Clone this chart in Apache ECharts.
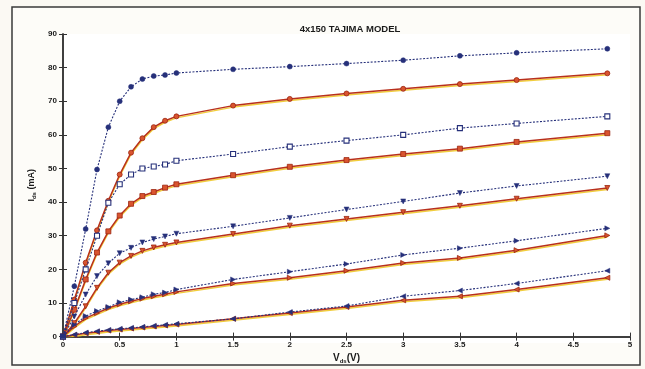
<!DOCTYPE html>
<html>
<head>
<meta charset="utf-8">
<script src="https://cdn.jsdelivr.net/npm/echarts@6/dist/echarts.min.js"></script>
<style>
html,body{margin:0;padding:0;background:#fbf9f3;}
#c{width:645px;height:369px;}
</style>
</head>
<body>
<div id="c"></div>
<script>
// Vds sample points (V)
const vds = [0, 0.1, 0.2, 0.3, 0.4, 0.5, 0.6, 0.7, 0.8, 0.9, 1.0, 1.5, 2, 2.5, 3, 3.5, 4, 4.8];
// Measured (blue dashed) and model (red) Ids curves, mA
const blueCircle = [0, 15, 32, 49.7, 62.3, 70, 74.3, 76.6, 77.5, 77.8, 78.4, 79.5, 80.3, 81.2, 82.2, 83.5, 84.4, 85.6];
const redCircle  = [0, 11, 22, 31.6, 40.4, 48.2, 54.7, 59, 62.3, 64.2, 65.5, 68.7, 70.7, 72.3, 73.7, 75.1, 76.3, 78.3];
const blueSquare = [0, 10, 20, 30, 39.8, 45.3, 48.2, 50, 50.6, 51.2, 52.3, 54.3, 56.5, 58.3, 60, 62, 63.4, 65.5];
const redSquare  = [0, 8, 17, 25, 31.3, 36, 39.5, 41.8, 43, 44.3, 45.3, 48, 50.5, 52.5, 54.3, 55.9, 57.9, 60.5];
const blueDown   = [0, 6, 12.5, 18, 21.8, 24.8, 26.4, 28, 29, 29.8, 30.6, 32.8, 35.3, 37.8, 40.2, 42.7, 44.8, 47.7];
const redDown    = [0, 4, 9, 14.5, 19, 22, 24, 25.5, 26.5, 27.3, 28, 30.5, 33, 35, 37, 38.9, 41, 44.2];
const blueRight  = [0, 3.5, 6.1, 7.6, 8.8, 10.2, 11, 11.7, 12.6, 13.1, 14, 17, 19.3, 21.6, 24.3, 26.3, 28.5, 32.2];
const redRight   = [0, 3, 5.5, 7, 8.5, 9.6, 10.5, 11.3, 12, 12.6, 13.3, 15.8, 17.5, 19.6, 21.9, 23.4, 25.7, 30.1];
const blueLeft   = [0, 0.6, 1.2, 1.6, 2, 2.3, 2.6, 2.9, 3.2, 3.5, 3.8, 5.3, 7.3, 9.1, 12, 13.7, 15.8, 19.6];
const redLeft    = [0, 0.5, 1, 1.4, 1.8, 2.1, 2.4, 2.7, 3, 3.3, 3.6, 5.3, 7, 8.8, 10.8, 12, 14, 17.5];

const xTicks = [0, 0.5, 1, 1.5, 2, 2.5, 3, 3.5, 4, 4.5, 5];
const yTicks = [0, 10, 20, 30, 40, 50, 60, 70, 80, 90];

const BLUE = '#26307a';
const RED = '#b8301c';

function pts(arr){ return vds.map((v,i)=>[v, arr[i]]); }

function blueSeries(name, arr, symbol, rot, hollow){
  return {
    name, type:'line', data: pts(arr), symbol, symbolRotate: rot, symbolSize: symbol==='circle'?5:5,
    lineStyle:{color:BLUE, width:1.1, type:[2,1.5]},
    itemStyle:{color: hollow ? '#ffffff' : BLUE, borderColor:BLUE, borderWidth: hollow?1.1:0.5},
    z: 3, animation:false
  };
}
function redSeries(name, arr, symbol, rot){
  return {
    name, type:'line', data: pts(arr), symbol, symbolRotate: rot, symbolSize: 5,
    lineStyle:{color:RED, width:1.5, shadowColor:'rgba(240,200,40,0.9)', shadowBlur:0, shadowOffsetY:1.5},
    itemStyle:{color:'#d9542f', borderColor:'#9a2410', borderWidth:0.8},
    z: 2, animation:false
  };
}

const axisLbl = {color:'#1a1a1a', fontSize:8, fontWeight:'bold', fontFamily:'Liberation Sans, Arial, sans-serif'};

const chart = echarts.init(document.getElementById('c'), null, {renderer:'canvas'});
chart.setOption({
  backgroundColor:'transparent',
  animation:false,
  graphic:[
    {type:'rect', shape:{x:12, y:7, width:628, height:358}, style:{fill:'#fdfcf8', stroke:'#3a3a3a', lineWidth:1.5}, z:-10},
    {type:'rect', shape:{x:63, y:34, width:567, height:309}, style:{fill:'#ffffff', stroke:null}, z:-9}
  ],
  title:{
    text:'4x150 TAJIMA MODEL', left:345, top:19, textAlign:'center',
    textStyle:{fontSize:9.5, fontWeight:'bold', color:'#1a1a1a', fontFamily:'Liberation Sans, Arial, sans-serif'}
  },
  grid:{left:63, right:15, top:34, bottom:26, show:false},
  xAxis:[
    {type:'value', min:0, max:5, interval:0.5, position:'bottom',
     axisLine:{show:true, lineStyle:{color:'#333', width:1.5}},
     axisTick:{show:true, inside:true, length:4, lineStyle:{color:'#333'}},
     axisLabel:Object.assign({margin:4, formatter:v=>String(v)}, axisLbl),
     splitLine:{show:false},
     name:'V{s|ds}(V)', nameLocation:'middle', nameGap:15,
     nameTextStyle:{fontSize:10, fontWeight:'bold', color:'#1a1a1a', fontFamily:'Liberation Sans, Arial, sans-serif',
       rich:{s:{fontSize:6, fontWeight:'bold', verticalAlign:'bottom', padding:[5,0,0,0]}}}
    },
    {type:'value', min:0, max:5, interval:0.5, position:'top',
     axisLine:{show:true, lineStyle:{color:'#333', width:1.5}},
     axisTick:{show:true, inside:true, length:4, lineStyle:{color:'#333'}},
     axisLabel:{show:false}, splitLine:{show:false}}
  ],
  yAxis:[
    {type:'value', min:0, max:90, interval:10, position:'left',
     axisLine:{show:true, lineStyle:{color:'#333', width:1.5}},
     axisTick:{show:true, inside:true, length:4, lineStyle:{color:'#333'}},
     axisLabel:Object.assign({margin:6}, axisLbl),
     splitLine:{show:false},
     name:'I{s|ds} (mA)', nameLocation:'middle', nameGap:26,
     nameTextStyle:{fontSize:9, fontWeight:'bold', color:'#1a1a1a', fontFamily:'Liberation Sans, Arial, sans-serif',
       rich:{s:{fontSize:6, fontWeight:'bold', padding:[5,0,0,0]}}}
    },
    {type:'value', min:0, max:90, interval:10, position:'right',
     axisLine:{show:true, lineStyle:{color:'#333', width:1.5}},
     axisTick:{show:true, inside:true, length:4, lineStyle:{color:'#333'}},
     axisLabel:{show:false}, splitLine:{show:false}}
  ],
  series:[
    redSeries('rc', redCircle, 'circle', 0),
    redSeries('rs', redSquare, 'rect', 0),
    redSeries('rd', redDown, 'triangle', 180),
    redSeries('rr', redRight, 'triangle', -90),
    redSeries('rl', redLeft, 'triangle', 90),
    blueSeries('bc', blueCircle, 'circle', 0, false),
    blueSeries('bs', blueSquare, 'rect', 0, true),
    blueSeries('bd', blueDown, 'triangle', 180, false),
    blueSeries('br', blueRight, 'triangle', -90, false),
    blueSeries('bl', blueLeft, 'triangle', 90, false)
  ]
});
</script>
</body>
</html>
